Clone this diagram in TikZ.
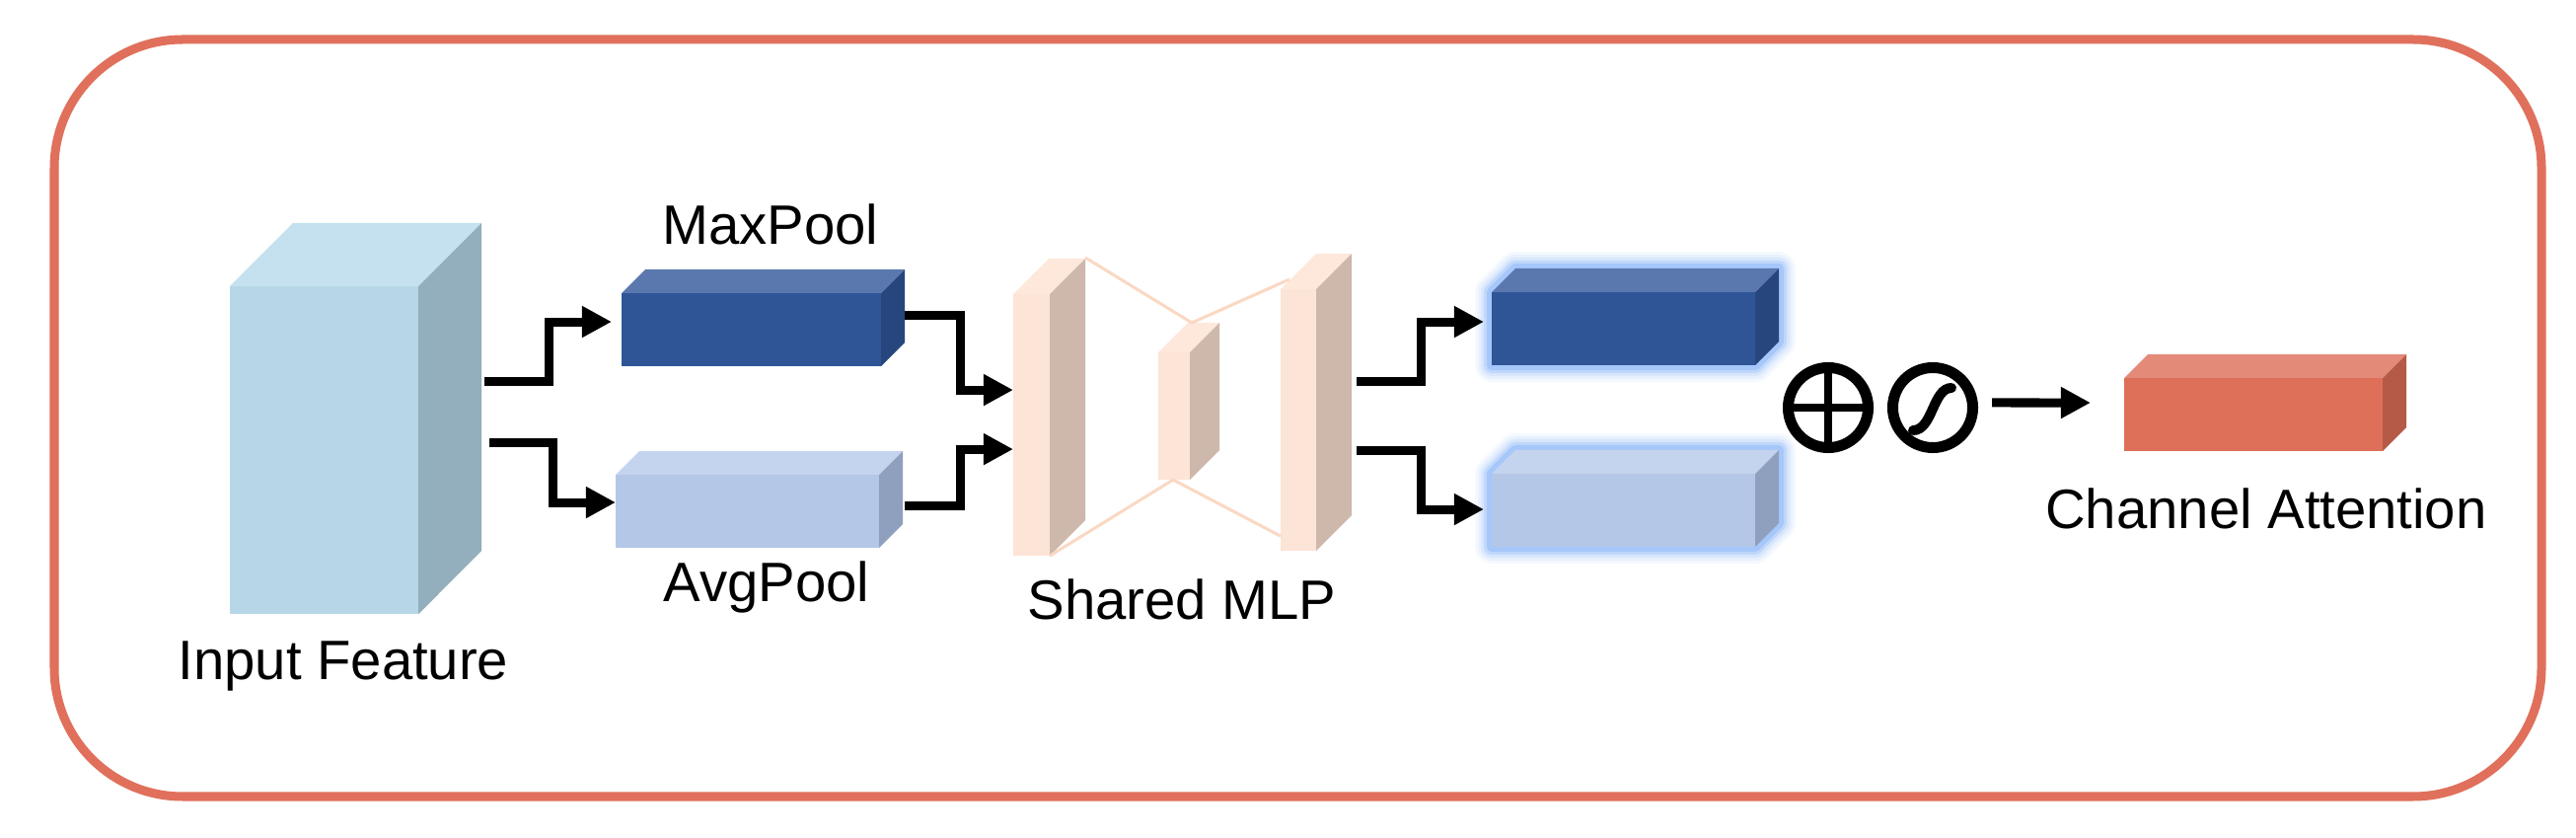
\documentclass[tikz,border=0pt]{standalone}
\usepackage{fontspec}
\setmainfont{Liberation Sans}
\usetikzlibrary{arrows.meta,backgrounds}
\definecolor{fin}{HTML}{B7D7E8}\definecolor{tin}{HTML}{C5E1EF}\definecolor{sin}{HTML}{93AEBC}
\definecolor{fmx}{HTML}{2F5597}\definecolor{tmx}{HTML}{5A78AE}\definecolor{smx}{HTML}{27467D}
\definecolor{fav}{HTML}{B4C7E7}\definecolor{tav}{HTML}{C5D4EE}\definecolor{sav}{HTML}{8FA0BF}
\definecolor{fml}{HTML}{FCE4D6}\definecolor{tml}{HTML}{FDE8DB}\definecolor{sml}{HTML}{CDB8AB}
\definecolor{fat}{HTML}{DE6F58}\definecolor{tat}{HTML}{E48A79}\definecolor{sat}{HTML}{B55A47}
\definecolor{border}{HTML}{E0705C}
\definecolor{glow}{HTML}{7FAEFA}
\definecolor{mlline}{HTML}{FBD8C3}
\tikzset{
  arr/.style={line width=0.9mm, line join=miter, -{Triangle[length=3mm,width=3mm]}},
  sym/.style={circle, draw, line width=1.1mm, minimum size=8.1mm, inner sep=0pt},
  lbl/.style={anchor=base, font=\fontsize{16pt}{19pt}\selectfont},
}
\begin{document}
\begin{tikzpicture}[x=0.01cm,y=-0.01cm]
\useasboundingbox (0,0) rectangle (2611,849);
\draw[border, line width=0.9mm, rounded corners=13mm] (55,40) rectangle (2576,807);
% boxes: name/x/y/width/height/depth/colour
\foreach \n/\x/\y/\bw/\bh/\bd/\col in {input/233/290/191/332/64/in, maxpool/630/297/263/74/24/mx, avgpool/624/481/267/74/24/av, mlpa/1027/298/37/265/36/ml, mlpb/1174/357/32/129/30/ml, mlpc/1298/293/36/265/36/ml, outmax/1512/296/267/74/24/mx, outavg/1512/480/267/74/24/av, att/2153/383/262/74/24/at}{
\node[anchor=north west, inner sep=0pt, outer sep=0pt, fill=f\col, minimum width=\bw*0.1mm, minimum height=\bh*0.1mm] (\n) at (\x,\y) {};
\fill[t\col] (\n.north west) -- ++(\bd,-\bd) -- ++(\bw,0) -- (\n.north east) -- cycle;
\fill[s\col] (\n.north east) -- ++(\bd,-\bd) -- ++(0,\bh) -- (\n.south east) -- cycle;
}
\begin{scope}[on background layer]
\fill[white] (0,0) rectangle (2611,849);
\foreach \o in {outmax,outavg}
\foreach \lw/\op in {3.4mm/.07,2.8mm/.1,2.2mm/.15,1.6mm/.25,1mm/.4}
\draw[glow, line width=\lw, opacity=\op, line join=round] (\o.south west) -- (\o.north west) -- ++(24,-24) -- ++(267,0) -- ++(0,74) -- (\o.south east) -- cycle;
\end{scope}
% shared MLP links
\draw[mlline, line width=.3mm] ([shift={(36,-37)}]mlpa.north east) -- ([shift={(34,-30)}]mlpb.north west) -- ([shift={(9,-10)}]mlpc.north west);
\draw[mlline, line width=.3mm] (mlpa.south east) -- ([xshift=1.5mm]mlpb.south west) -- ([yshift=1.5mm]mlpc.south west);
% arrows
\draw[arr] ([xshift=6.7mm,yshift=7mm]input.east) -- ++(65,0) |- ([xshift=-1mm,yshift=.8mm]maxpool.west);
\draw[arr] ([xshift=7.2mm,yshift=.8mm]input.east) -- ++(64,0) |- ([yshift=.9mm]avgpool.west);
\draw[arr] ([xshift=2.4mm,yshift=1.5mm]maxpool.east) -- ++(56,0) |- ([yshift=3.55mm]mlpa.west);
\draw[arr] ([xshift=2.6mm,yshift=.6mm]avgpool.east) -- ++(56,0) |- ([yshift=-2.45mm]mlpa.west);
\draw[arr] ([xshift=4.1mm,yshift=3.95mm]mlpc.east) -- ++(65,0) |- ([xshift=-.8mm,yshift=.7mm]outmax.west);
\draw[arr] ([xshift=4.1mm,yshift=-3.05mm]mlpc.east) -- ++(65,0) |- ([xshift=-.8mm,yshift=.1mm]outavg.west);
% sum and sigmoid
\node[sym] (plus) at (1853,413) {};
\draw[line width=.8mm] (plus.north) -- (plus.south) (plus.west) -- (plus.east);
\node[sym] (sig) at (1959,413) {};
\draw[line width=1mm, line cap=round] ([shift={(-20,23)}]sig.center) .. controls ([shift={(0,23)}]sig.center) and ([shift={(0,-20)}]sig.center) .. ([shift={(19,-20)}]sig.center);
\draw[arr] ([xshift=1.4mm,yshift=.5mm]sig.east) -- ([xshift=-3.4mm,yshift=1.2mm]att.west);
% labels
\node[lbl] (lblin) at (348,689) {Input Feature};
\node[lbl] (lblmax) at (781,248) {MaxPool};
\node[lbl] (lblavg) at (777,610) {AvgPool};
\node[lbl] (lblmlp) at (1198,627) {Shared MLP};
\node[lbl] (lblatt) at (2297,536) {Channel Attention};
\end{tikzpicture}
\end{document}
